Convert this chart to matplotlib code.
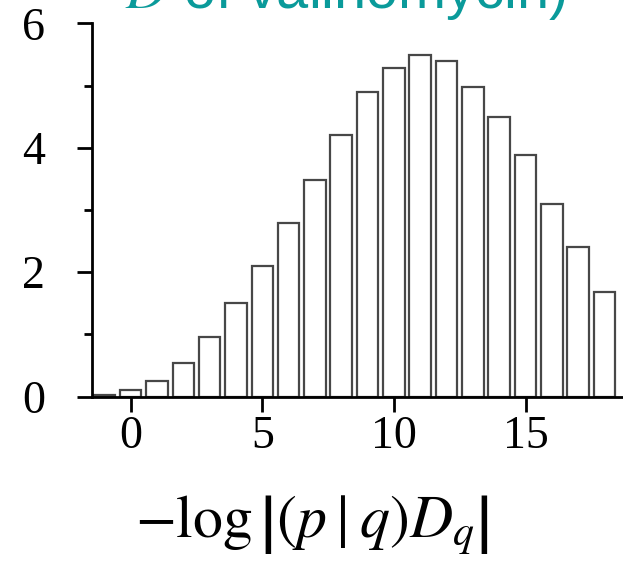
import numpy as np
import matplotlib
matplotlib.use('Agg')
from matplotlib import pyplot as plt
from matplotlib.ticker import MultipleLocator, FixedLocator

plt.rcParams['font.family'] = ['Liberation Serif', 'DejaVu Serif']
plt.rcParams['mathtext.fontset'] = 'stix'

# bin centres and heights
bins = [-1, 0, 1, 2, 3, 4, 5, 6, 7, 8, 9, 10, 11, 12, 13, 14, 15, 16, 17, 18]
heights = [0.02, 0.11, 0.26, 0.54, 0.96, 1.50, 2.10, 2.79, 3.49, 4.20,
           4.89, 5.28, 5.49, 5.39, 4.98, 4.49, 3.89, 3.09, 2.40, 1.69]
xticks = [0, 5, 10, 15]
yticks = [0, 2, 4, 6]
title_text = r'$D$ of valinomycin)'
xlabel = r'$-\log\left|(p\mid q)D_q\right|$'

fig = plt.figure(figsize=(6.23, 5.73), dpi=100)
ax = fig.add_axes([0.1472, 0.3077, 0.8528, 0.6516])

ax.bar(bins, heights, width=0.82, color='white', edgecolor='#474747', linewidth=1.6)

ax.set_xlim(-1.48, 18.7)
ax.set_ylim(0, 6)
ax.spines['top'].set_visible(False)
ax.spines['right'].set_visible(False)
for s in ['left', 'bottom']:
    ax.spines[s].set_linewidth(2.0)

ax.xaxis.set_major_locator(FixedLocator(xticks))
ax.yaxis.set_major_locator(FixedLocator(yticks))
ax.yaxis.set_minor_locator(MultipleLocator(1))
ax.tick_params(axis='both', which='major', direction='out', length=10.8, width=2.0, labelsize=33)
ax.tick_params(axis='y', which='minor', direction='out', length=5.8, width=2.0)
ax.tick_params(axis='x', pad=3)
ax.tick_params(axis='y', pad=23)

ax.set_xlabel(xlabel, fontsize=43)
ax.xaxis.set_label_coords(0.4146, -0.26)

fig.text(125 / 623, 1 - 8 / 573, title_text, color='#0a9a9a', fontsize=41.5,
         family='Liberation Sans', va='baseline', ha='left')

plt.savefig('out.png', dpi=100)
